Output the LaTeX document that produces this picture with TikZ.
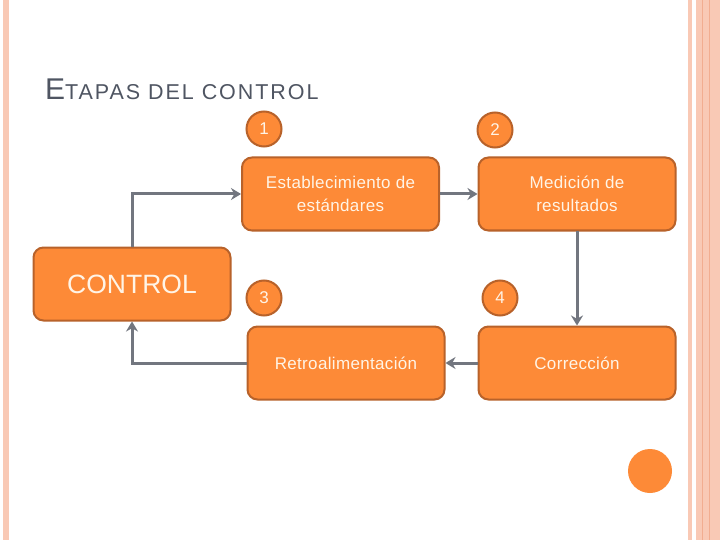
\documentclass[tikz,border=0pt]{standalone}
\usepackage{fontspec}
\setmainfont{Liberation Sans}
\newfontfamily\boxfont[LetterSpace=2]{Liberation Sans}
\newfontfamily\titlefont[LetterSpace=9]{Liberation Sans}
\usetikzlibrary{arrows.meta}
\definecolor{orfill}{HTML}{FD8A37}
\definecolor{orline}{HTML}{B8622A}
\definecolor{txtc}{HTML}{FFF4E6}
\definecolor{arrc}{HTML}{72767F}
\definecolor{stripe}{HTML}{F9C9B5}
\definecolor{stripedk}{HTML}{F2AD90}
\definecolor{titlec}{HTML}{4F5562}
\tikzset{
  stage/.style={draw=orline, fill=orfill, line width=2pt, rounded corners=10pt,
    minimum width=197pt, minimum height=73pt, text=txtc, align=center,
    font=\boxfont\fontsize{17}{23}\selectfont, inner sep=0pt},
  num/.style={circle, draw=orline, fill=orfill, line width=2pt, minimum size=35pt,
    inner sep=0pt, text=txtc, font=\fontsize{17}{17}\selectfont},
  conn/.style={draw=arrc, line width=3pt, -{Stealth[length=10pt,width=12pt]}}
}
\begin{document}
\begin{tikzpicture}[x=1pt,y=-1pt]
\useasboundingbox (0,0) rectangle (720,540);
\fill[white] (0,0) rectangle (720,540);
% decorative borders
\fill[stripe] (3,0) rectangle (9,540);
\fill[stripe] (688,0) rectangle (692,540);
\fill[stripe] (696,0) rectangle (720,540);
\draw[stripedk, line width=1pt] (702,0) -- (702,540);
\draw[stripedk, line width=1pt] (709,0) -- (709,540);
% title
\node[anchor=base west, inner sep=0pt, text=titlec, font=\titlefont] (title) at (45,100)
  {{\fontsize{30}{30}\selectfont E}{\fontsize{21.5}{21.5}\selectfont TAPAS DEL CONTROL}};
% boxes
\node[stage] (est) at (340.5,194) {Establecimiento de\\est\'andares};
\node[stage] (med) at (577,194) {Medici\'on de\\resultados};
\node[stage, font=\fontsize{26.5}{26.5}\selectfont] (ctrl) at (132,284) {CONTROL};
\node[stage] (ret) at (346,363) {Retroalimentaci\'on};
\node[stage] (cor) at (577,363) {Correcci\'on};
% numbers
\node[num] (n1) at (264,129) {1};
\node[num] (n2) at (495,130) {2};
\node[num] (n3) at (264,298) {3};
\node[num] (n4) at (500,298) {4};
% decorative dot
\node[circle, fill=orfill, minimum size=44pt, inner sep=0pt] (dot) at (650,471) {};
% connectors
\draw[conn] (ctrl.north) |- (est.west);
\draw[conn] (est.east) -- (med.west);
\draw[conn] (med.south) -- (cor.north);
\draw[conn] (cor.west) -- (ret.east);
\draw[conn] (ret.west) -| (ctrl.south);
\end{tikzpicture}
\end{document}
